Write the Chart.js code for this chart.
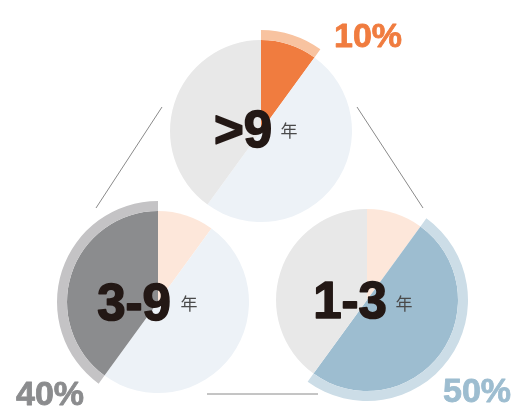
<!DOCTYPE html>
<html>
<head>
<meta charset="utf-8">
<script src="https://cdn.jsdelivr.net/npm/chart.js@4.4.0/dist/chart.umd.min.js"></script>
<style>
  html, body { margin: 0; padding: 0; background: #fff; }
  #wrap { position: relative; width: 516px; height: 407px; overflow: hidden; }
  #wrap canvas { position: absolute; }
  #overlay { position: absolute; left: 0; top: 0; pointer-events: none; }
  .big { font-family: "Liberation Sans", Arial, sans-serif; font-weight: bold; font-size: 51px; fill: #231815; stroke: #231815; stroke-width: 1.6px; stroke-linejoin: round; }
  .unit { font-family: "Noto Sans CJK SC", sans-serif; font-size: 17px; fill: #4a4a4a; }
  .pct { font-family: "Liberation Sans", Arial, sans-serif; font-weight: bold; font-size: 34px; stroke-width: 0.8px; stroke-linejoin: round; }
</style>
</head>
<body>
<div id="wrap">
  <canvas id="pie0" width="202" height="202"></canvas>
  <canvas id="pie1" width="202" height="202"></canvas>
  <canvas id="pie2" width="202" height="202"></canvas>
  <svg id="overlay" width="516" height="407"></svg>
</div>
<script>
// categories in clockwise order from 12 o'clock
const categories = ['>9', '1-3', '3-9'];
const shares = [10, 50, 40];
const unitLabel = '年';

// colours per category: faded, highlighted, outer ring
const fadedColors = ['#fde7da', '#edf2f7', '#e8e8e8'];
const strongColors = ['#f07c3f', '#9dbdd0', '#8b8c8e'];
const ringColors = ['#f8c3a0', '#ccdde7', '#c4c3c5'];

// one pie per category, highlighting that category
const pies = [
    { id: 'pie0', highlight: 0, cx: 261, cy: 131 },
    { id: 'pie2', highlight: 2, cx: 158, cy: 302 },
    { id: 'pie1', highlight: 1, cx: 367, cy: 300 }
];

// label spots
const bigLabels = [
    { text: categories[0], x: 243, y: 147, ux: 289, uy: 137 },
    { text: categories[2], x: 134, y: 320, ux: 189, uy: 310 },
    { text: categories[1], x: 350, y: 318, ux: 404, uy: 310 }
];
const pctLabels = [
    { i: 0, x: 368, y: 47 },
    { i: 2, x: 50, y: 405 },
    { i: 1, x: 477, y: 402 }
];

pies.forEach(p => {
    const canvas = document.getElementById(p.id);
    canvas.style.left = (p.cx - 101) + 'px';
    canvas.style.top = (p.cy - 101) + 'px';

    const ring = categories.map((c, i) => i === p.highlight ? ringColors[i] : 'rgba(0,0,0,0)');
    const fill = categories.map((c, i) => i === p.highlight ? strongColors[i] : fadedColors[i]);

    new Chart(canvas.getContext('2d'), {
        type: 'pie',
        data: {
            labels: categories,
            datasets: [
                { data: shares, backgroundColor: ring, borderWidth: 0, weight: 10 },
                { data: shares, backgroundColor: fill, borderWidth: 0, weight: 91 }
            ]
        },
        options: {
            responsive: false,
            animation: false,
            events: [],
            layout: { padding: 0 },
            elements: { arc: { offset: 0, hoverOffset: 0 } },
            plugins: { legend: { display: false }, tooltip: { enabled: false } }
        }
    });
});

// connecting lines and text
const svg = document.getElementById('overlay');
const ns = 'http://www.w3.org/2000/svg';
function add(tag, attrs, text) {
    const el = document.createElementNS(ns, tag);
    Object.keys(attrs).forEach(k => el.setAttribute(k, attrs[k]));
    if (text) el.textContent = text;
    svg.appendChild(el);
}

add('line', { x1: 162, y1: 107, x2: 96, y2: 208, stroke: '#8a8a8a', 'stroke-width': 1 });
add('line', { x1: 357, y1: 107, x2: 423, y2: 208, stroke: '#8a8a8a', 'stroke-width': 1 });
add('line', { x1: 207, y1: 394, x2: 318, y2: 394, stroke: '#8a8a8a', 'stroke-width': 1 });

bigLabels.forEach(b => {
    add('text', { x: b.x, y: b.y, 'text-anchor': 'middle', class: 'big' }, b.text);
    add('text', { x: b.ux, y: b.uy, 'text-anchor': 'middle', class: 'unit' }, unitLabel);
});

pctLabels.forEach(l => {
    add('text', { x: l.x, y: l.y, 'text-anchor': 'middle', class: 'pct', fill: strongColors[l.i], stroke: strongColors[l.i] }, shares[l.i] + '%');
});
</script>
</body>
</html>
